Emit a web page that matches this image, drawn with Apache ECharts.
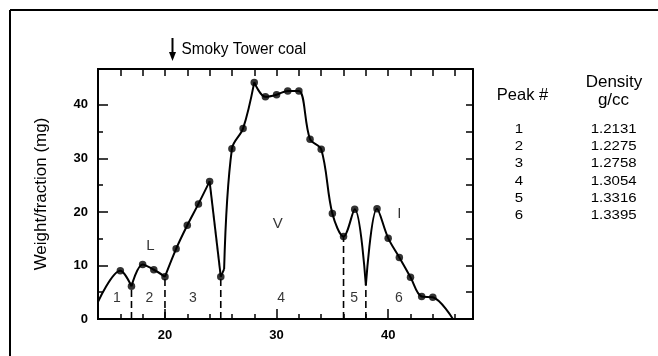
<!DOCTYPE html>
<html>
<head>
<meta charset="utf-8">
<script src="https://cdn.jsdelivr.net/npm/echarts@6/dist/echarts.min.js"></script>
<style>html,body{margin:0;padding:0;background:#fff}#c{width:658px;height:356px}</style>
</head>
<body>
<div id="c"></div>
<script>
// Measured fractions (drawn with markers)
const sampleX = [16, 17, 18, 19, 20, 21, 22, 23, 24, 25, 26, 27, 28, 29, 30, 31, 32, 33, 34, 35, 36, 37, 39, 40, 41, 42, 43, 44];
const sampleY = [9.0, 6.1, 10.2, 9.2, 7.9, 13.1, 17.5, 21.5, 25.7, 7.9, 31.8, 35.6, 44.2, 41.5, 41.9, 42.6, 42.6, 33.6, 31.7, 19.7, 15.4, 20.5, 20.6, 15.1, 11.5, 7.8, 4.2, 4.05];
// Unmarked points of the drawn curve
const traceX = [14, 25.3, 38, 45.8];
const traceY = [3.2, 9.3, 6.3, 0];
// Sharp corners of the curve (curve is smoothed between them)
const cuspX = [17, 20, 24, 25, 25.3, 28, 38];
// Peak boundaries (dashed lines)
const dividerX = [17, 20, 25, 36, 38];
// Peak numbers
const peakLabels = ['1', '2', '3', '4', '5', '6'];
const peakLabelX = [15.7, 18.6, 22.5, 30.4, 36.95, 40.95];
const peakLabelY = [3.9, 3.9, 3.9, 3.9, 3.9, 3.9];
// Maceral group letters
const groupLabels = ['L', 'V', 'I'];
const groupLabelX = [18.7, 30.1, 41.0];
const groupLabelY = [13.6, 17.7, 19.7];
// Table
const tablePeaks = ['1', '2', '3', '4', '5', '6'];
const tableDensity = ['1.2131', '1.2275', '1.2758', '1.3054', '1.3316', '1.3395'];
// Axis ticks
const xLabelTicks = [20, 30, 40];
const xMinorTicks = [16, 18, 22, 24, 26, 28, 32, 34, 36, 38, 42, 44, 46];
const xTopTicks = [16, 18, 20, 22, 24, 26, 28, 30, 32, 34, 36, 38, 40, 42, 44, 46];
const yLabelTicks = [0, 10, 20, 30, 40];
const yMinorTicks = [5, 15, 25, 35];
const yRightTicks = [5, 10, 15, 20, 25, 30, 35, 40];
const xMin = 14, xMax = 47.6, yMin = 0, yMax = 46.7;

const FONT = 'Liberation Sans, Arial, Helvetica, sans-serif';

// Build curve
const curve = [];
sampleX.forEach((x, i) => curve.push([x, sampleY[i]]));
traceX.forEach((x, i) => curve.push([x, traceY[i]]));
curve.sort((a, b) => a[0] - b[0]);
const yAt = x => { const p = curve.find(d => d[0] === x); return p ? p[1] : 0; };

const segments = [];
let cur = [];
curve.forEach(p => {
  cur.push(p);
  if (cuspX.includes(p[0])) { segments.push(cur); cur = [p]; }
});
if (cur.length > 1) segments.push(cur);

const series = [];
segments.forEach(seg => {
  series.push({
    type: 'line', data: seg, smooth: seg.length > 2 ? 0.35 : false,
    showSymbol: false, symbol: 'none', silent: true, z: 3,
    lineStyle: { color: '#000', width: 2 }
  });
});
dividerX.forEach(x => {
  series.push({
    type: 'line', data: [[x, 0], [x, yAt(x)]], showSymbol: false, symbol: 'none', z: 2,
    lineStyle: { color: '#000', width: 1.6, type: [7, 4] }
  });
});
series.push({
  type: 'scatter', data: sampleX.map((x, i) => [x, sampleY[i]]),
  symbol: 'circle', symbolSize: 7.5, itemStyle: { color: '#000' }, z: 4
});
series.push({
  type: 'scatter', data: peakLabelX.map((x, i) => [x, peakLabelY[i], peakLabels[i]]),
  symbolSize: 0, z: 5,
  label: { show: true, position: 'inside', formatter: p => p.data[2], color: '#000', fontSize: 14, fontFamily: FONT }
});
series.push({
  type: 'scatter', data: groupLabelX.map((x, i) => [x, groupLabelY[i], groupLabels[i]]),
  symbolSize: 0, z: 5,
  label: { show: true, position: 'inside', formatter: p => p.data[2], color: '#000', fontSize: 15, fontFamily: FONT }
});

const axisLine = { show: true, onZero: false, lineStyle: { color: '#000', width: 2 } };
const noLabel = { show: false };

function txt(text, x, y, size, sx, align) {
  return { type: 'text', x, y, scaleX: sx || 1,
    style: { text, font: size + 'px ' + FONT, fill: '#000', verticalAlign: 'middle', align: align || 'center' } };
}

const graphic = [
  { type: 'line', shape: { x1: 10, y1: 10, x2: 660, y2: 10 }, style: { stroke: '#000', lineWidth: 2 } },
  { type: 'line', shape: { x1: 10, y1: 10, x2: 10, y2: 360 }, style: { stroke: '#000', lineWidth: 2 } },
  { type: 'line', shape: { x1: 172.5, y1: 38, x2: 172.5, y2: 54 }, style: { stroke: '#000', lineWidth: 2 } },
  { type: 'polygon', shape: { points: [[169, 52], [176, 52], [172.5, 61]] }, style: { fill: '#000' } },
  txt('Smoky Tower coal', 181.5, 50, 16, 0.96, 'left'),
  txt('Peak #', 522.5, 95, 16.5),
  txt('Density', 614, 82.5, 17),
  txt('g/cc', 613.5, 100.5, 17)
];
tablePeaks.forEach((t, i) => {
  graphic.push(txt(t, 519, 129.2 + i * 17.3, 12.5, 1.2));
  graphic.push(txt(tableDensity[i], 613.7, 129.2 + i * 17.3, 12.5, 1.2));
});

const gridBox = { left: 98, right: 185, top: 69, bottom: 37, show: false };
const tickStyle = { color: '#000', width: 1.5 };

const chart = echarts.init(document.getElementById('c'), null, { renderer: 'canvas' });
chart.setOption({
  animation: false,
  backgroundColor: '#fff',
  grid: [Object.assign({}, gridBox), Object.assign({}, gridBox)],
  xAxis: [
    { gridIndex: 0, type: 'value', min: xMin, max: xMax, position: 'bottom', axisLine,
      splitLine: { show: false },
      axisTick: { show: true, inside: true, length: 10, customValues: xLabelTicks, lineStyle: tickStyle },
      axisLabel: { show: true, customValues: xLabelTicks, color: '#000', fontSize: 13, fontWeight: 'bold', fontFamily: FONT, margin: 10 } },
    { gridIndex: 0, type: 'value', min: xMin, max: xMax, position: 'top', axisLine,
      splitLine: { show: false },
      axisTick: { show: true, inside: true, length: 7, customValues: xTopTicks, lineStyle: tickStyle },
      axisLabel: noLabel },
    { gridIndex: 1, type: 'value', min: xMin, max: xMax, position: 'bottom', axisLine,
      splitLine: { show: false },
      axisTick: { show: true, inside: true, length: 5, customValues: xMinorTicks, lineStyle: tickStyle },
      axisLabel: noLabel }
  ],
  yAxis: [
    { gridIndex: 0, type: 'value', min: yMin, max: yMax, position: 'left', axisLine,
      splitLine: { show: false },
      name: 'Weight/fraction (mg)', nameLocation: 'middle', nameGap: 48,
      nameTextStyle: { color: '#000', fontSize: 17, fontFamily: FONT },
      axisTick: { show: true, inside: true, length: 10, customValues: yLabelTicks, lineStyle: tickStyle },
      axisLabel: { show: true, customValues: yLabelTicks, color: '#000', fontSize: 13, fontWeight: 'bold', fontFamily: FONT, margin: 10 } },
    { gridIndex: 0, type: 'value', min: yMin, max: yMax, position: 'right', axisLine,
      splitLine: { show: false },
      axisTick: { show: true, inside: true, length: 7, customValues: yRightTicks, lineStyle: tickStyle },
      axisLabel: noLabel },
    { gridIndex: 1, type: 'value', min: yMin, max: yMax, position: 'left', axisLine,
      splitLine: { show: false },
      axisTick: { show: true, inside: true, length: 5, customValues: yMinorTicks, lineStyle: tickStyle },
      axisLabel: noLabel }
  ],
  graphic,
  series: series.map(s => Object.assign(s, { xAxisIndex: 0, yAxisIndex: 0 }))
});
</script>
</body>
</html>
